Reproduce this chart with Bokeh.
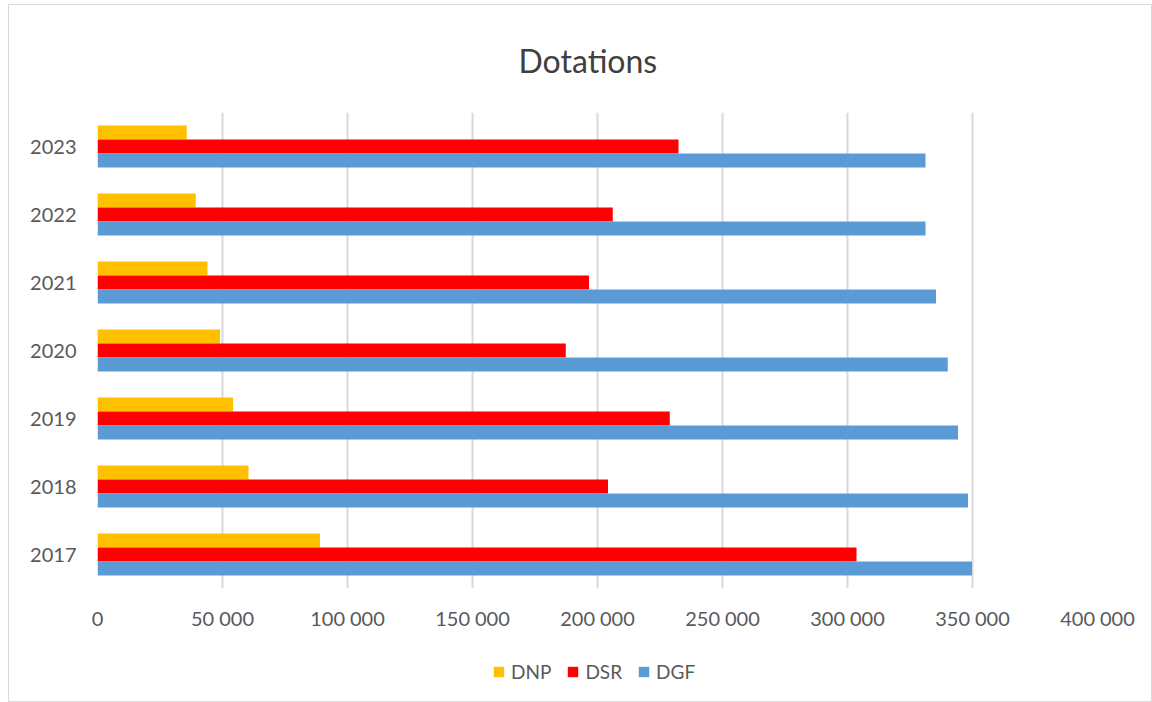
from bokeh.plotting import figure
from bokeh.layouts import column
from bokeh.models import FactorRange, Range1d, FixedTicker, Legend, LegendItem, ColumnDataSource
from bokeh.transform import dodge
from bokeh.embed import file_html
from bokeh.resources import INLINE

years = ["2017", "2018", "2019", "2020", "2021", "2022", "2023"]
dnp = [89000, 60400, 54200, 49000, 44000, 39300, 35700]
dsr = [303600, 204200, 228900, 187300, 196600, 206100, 232400]
dgf = [349800, 348200, 344200, 340100, 335400, 331200, 331200]
series_names = ["DNP", "DSR", "DGF"]
series_colors = ["#FFC000", "#FF0000", "#5B9BD5"]
tick_values = [0, 50000, 100000, 150000, 200000, 250000, 300000, 350000, 400000]
tick_labels = ["0", "50\u202f000", "100\u202f000", "150\u202f000", "200\u202f000",
               "250\u202f000", "300\u202f000", "350\u202f000", "400\u202f000"]

FONT = "Lato"
TXT = "#595959"

source = ColumnDataSource(dict(year=years, DNP=dnp, DSR=dsr, DGF=dgf))

p = figure(width=1142, height=636, y_range=FactorRange(factors=years),
           x_range=Range1d(0, 400000), output_backend="svg", toolbar_location=None,
           min_border_left=88, min_border_right=54, min_border_top=107, min_border_bottom=53)

bh = 0.206
offsets = [bh, 0, -bh]
for name, col, off in zip(series_names, series_colors, offsets):
    p.hbar(y=dodge("year", off, range=p.y_range), right=name, left=0, height=bh,
           source=source, fill_color=col, line_color=None)

p.title.text = "Dotations"
p.title.text_font = FONT
p.title.text_font_size = "32px"
p.title.text_font_style = "normal"
p.title.text_color = "#404040"
p.title.align = "left"
p.title.offset = 421
p.title.standoff = 66

p.outline_line_color = None
p.ygrid.grid_line_color = None
p.xgrid.grid_line_color = "#D9D9D9"
p.xgrid.grid_line_width = 2

p.xaxis.ticker = FixedTicker(ticks=tick_values)
p.xaxis.major_label_overrides = {v: l for v, l in zip(tick_values, tick_labels)}
for ax in (p.xaxis[0], p.yaxis[0]):
    ax.axis_line_color = None
    ax.major_tick_line_color = None
    ax.minor_tick_line_color = None
    ax.major_label_text_font = FONT
    ax.major_label_text_font_size = "20px"
    ax.major_label_text_color = TXT
p.xaxis.major_label_standoff = 11
p.yaxis.major_label_standoff = 15

# legend strip below the chart: same series, zero-height and out of view
lg = figure(width=1142, height=60, x_range=Range1d(-2, -1), y_range=FactorRange(factors=years),
            x_axis_type=None, y_axis_type=None,
            output_backend="svg", toolbar_location=None,
            min_border_left=0, min_border_right=0, min_border_top=0, min_border_bottom=0)
lg.grid.visible = False
lg.outline_line_color = None
swatches = []
for name, col in zip(series_names, series_colors):
    swatches.append(lg.hbar(y="year", right=name, left=0, height=0, source=source,
                            fill_color=col, line_color=None))

legend = Legend(items=[LegendItem(label=n, renderers=[r]) for n, r in zip(series_names, swatches)],
                orientation="horizontal", location=(395, 18), padding=0, margin=0,
                spacing=15, glyph_width=13, glyph_height=13, label_standoff=6,
                label_text_font=FONT, label_text_font_size="19px", label_text_color=TXT,
                border_line_color=None, background_fill_alpha=0)
lg.add_layout(legend, "center")

layout = column(p, lg, spacing=0)
layout.styles = {"border": "1px solid #d9d9d9", "margin-left": "8px", "margin-top": "4px"}

open("out.html", "w").write(file_html(layout, INLINE))
